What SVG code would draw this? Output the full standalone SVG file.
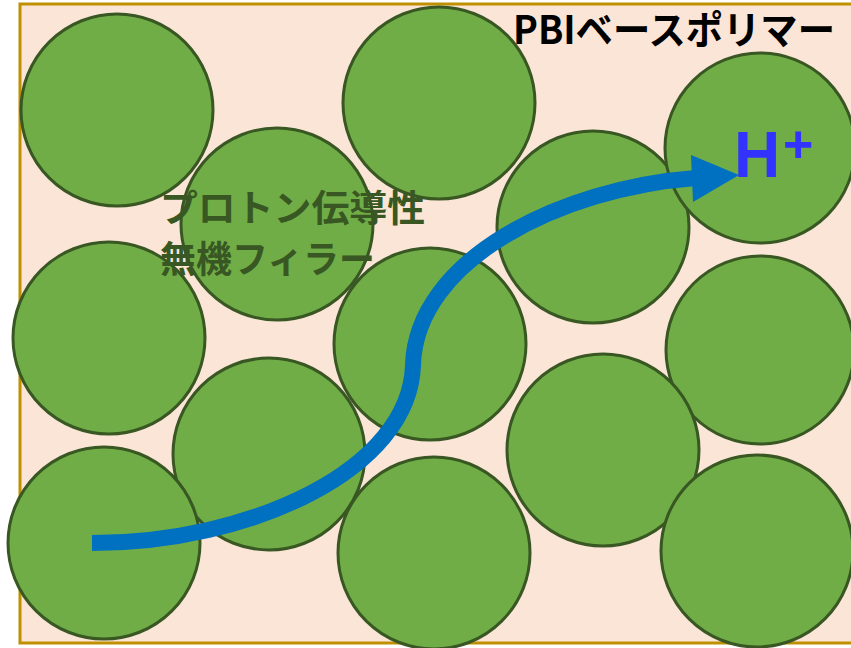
<svg xmlns="http://www.w3.org/2000/svg" width="851" height="648" viewBox="0 0 851 648">
<style>
.p{fill:#70ad47;stroke:#385723;stroke-width:3}
.t{font-family:"Noto Sans CJK JP","Liberation Sans",sans-serif;font-weight:bold}
</style>
<rect x="0" y="0" width="851" height="648" fill="#ffffff"/>
<g id="polymer">
<rect x="20" y="4" width="840" height="639" fill="#fbe5d6" stroke="#bf9000" stroke-width="3"/>
</g>
<g id="fillers">
<circle class="p" cx="117" cy="110" r="96"/>
<circle class="p" cx="277" cy="224" r="96"/>
<circle class="p" cx="439" cy="103" r="96"/>
<circle class="p" cx="593" cy="227" r="96"/>
<circle class="p" cx="760" cy="148" r="95"/>
<circle class="p" cx="109" cy="338" r="96"/>
<circle class="p" cx="430" cy="344" r="96"/>
<circle class="p" cx="760" cy="350" r="94"/>
<circle class="p" cx="269" cy="454" r="96"/>
<circle class="p" cx="603" cy="450" r="96"/>
<circle class="p" cx="104" cy="543" r="96"/>
<circle class="p" cx="434" cy="553" r="96"/>
<circle class="p" cx="757" cy="551" r="96"/>
</g>
<g id="labels">
<text class="t" x="513" y="44" font-size="39" fill="#000000" textLength="322" lengthAdjust="spacingAndGlyphs">PBIベースポリマー</text>
<text class="t" x="160" y="222" font-size="37" fill="#385723" textLength="265" lengthAdjust="spacingAndGlyphs">プロトン伝導性</text>
<text class="t" x="160" y="273" font-size="37" fill="#385723" textLength="215" lengthAdjust="spacingAndGlyphs">無機フィラー</text>
</g>
<g id="connectors">
<path d="M92,543 C250,543 410,470 413,365 C416,260 560,188 696,178" fill="none" stroke="#0070c0" stroke-width="16"/>
<polygon points="691,155 739,175 693,202" fill="#0070c0"/>
</g>
<g id="hplus">
<text x="734" y="177" font-family="Liberation Sans, Arial, sans-serif" font-weight="bold" font-size="64" fill="#3333ff">H</text>
<text x="783" y="162" font-family="Liberation Sans, Arial, sans-serif" font-weight="bold" font-size="52" fill="#3333ff">+</text>
</g>
</svg>
